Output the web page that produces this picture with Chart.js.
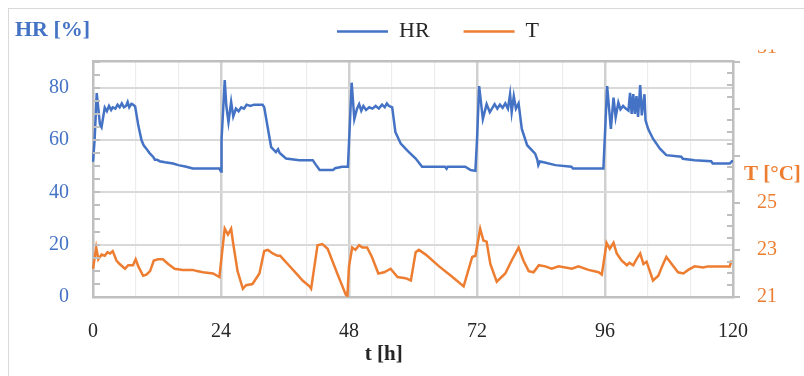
<!DOCTYPE html>
<html>
<head>
<meta charset="utf-8">
<script src="https://cdn.jsdelivr.net/npm/chart.js@4/dist/chart.umd.min.js"></script>
<style>
html,body{margin:0;padding:0;background:#fff;}
canvas{display:block;}
</style>
</head>
<body>
<canvas id="c" width="804" height="376"></canvas>
<script>
// ---- data ----
const hrTime = [0,0.3,0.7,1.0,1.3,1.6,2.2,2.6,3.0,3.4,3.7,4.2,4.6,5.0,5.4,5.8,6.2,6.5,6.8,7.2,7.5,7.9,8.5,9.1,9.5,10.0,10.6,11.3,11.6,12.0,12.5,13.5,15.0,16.0,17.5,18.7,23.7,24.0,24.1,24.7,25.0,25.4,25.9,26.3,26.8,27.3,27.8,28.3,28.8,29.5,30.2,31.0,31.8,32.1,32.8,33.4,34.3,34.7,35.0,35.6,36.2,38.7,41.2,41.8,42.5,45.0,45.4,46.7,47.8,48.5,49.0,49.5,49.9,50.3,50.7,51.2,51.8,52.4,53.0,53.6,54.2,54.7,55.1,55.5,56.1,56.7,57.7,58.9,60.5,61.7,66.0,66.3,66.5,69.8,70.8,71.7,72.0,72.4,73.1,73.8,74.4,75.3,75.8,76.3,76.8,77.3,77.8,78.2,78.5,78.9,79.3,79.8,80.4,81.4,82.9,83.3,83.5,83.8,84.5,86.7,89.7,90.0,95.7,96.4,97.1,97.6,98.0,98.5,98.9,99.4,99.9,100.4,100.7,101.0,101.3,101.6,101.9,102.2,102.6,102.9,103.4,103.6,104.1,105.0,106.3,107.5,110.3,110.6,112.8,115.9,116.2,119.4,119.8,120];
const hrValues = [51.7,60,77.9,72,66,64.9,72.4,71,73,71.5,72.5,72,73.5,72.5,74,72.5,73,74.5,72.5,73.8,73.5,72.8,65.5,59.9,58,56.7,55,53.5,52.5,52.5,51.9,51.5,51,50.4,49.8,49.1,49.1,48,60,82.9,73,66.8,74.6,69,72,71,72.5,72,73.5,73,73.5,73.5,73.5,72.5,64.3,57.3,55.4,56.5,55,54,52.9,52.3,52.3,50.5,48.5,48.5,49.2,49.8,49.8,81.9,68,72,73.7,71.2,73,71.5,72.5,72,73,72,73.5,72.5,74,73,72.5,63,58.6,56,52.9,49.8,49.8,49,49.8,49.8,48.5,48.2,60,80.6,68,73.7,70.6,73.7,72,73.5,72.3,74,72,77.5,70.6,76.7,72,74,64.2,58,54.8,52.5,50.4,51.8,51.5,50.4,49.8,49.1,49.1,80.6,64.2,76.2,68.7,74.3,71.7,73,72,71.2,78,70,77.5,70,76.8,68.8,81,69.4,77.5,67.5,64.2,60.5,56.7,54.2,53.6,52.8,52.3,51.9,51,51,51.9,51.9];

const tTime = [0,0.6,1.0,1.6,2.2,2.7,3.2,3.7,4.4,5.0,6.0,6.6,7.5,8.0,8.5,9.4,10.0,10.7,11.4,12.2,13.1,14.1,15.3,16.8,18.7,19.5,20.6,22.5,23.7,24.3,24.7,25.3,25.9,26.3,27.1,28.1,28.7,29.9,31.2,32.1,32.8,33.7,34.6,35.1,36.5,38.1,39.3,40.6,40.9,42.1,43.0,44.0,45.8,47.4,47.7,48.0,48.6,49.2,49.9,50.5,51.4,52.3,53.5,54.6,55.8,57.1,58.6,59.6,60.5,61.1,62.4,64.9,67.4,69.5,71.1,71.7,72.6,73.2,73.8,74.5,75.7,77.3,78.5,79.8,80.7,81.7,82.6,83.6,84.8,86.0,87.3,89.8,91.0,92.9,94.8,95.4,96.3,96.9,97.6,98.2,99.1,100.1,100.6,101.3,101.9,102.6,103.2,103.8,105.0,106.0,106.7,107.5,108.5,109.7,110.7,111.6,112.8,114.4,115.3,119.4,119.7];
const tValues = [22.2,23.1,22.6,22.8,22.75,22.9,22.85,22.95,22.55,22.4,22.2,22.35,22.35,22.6,22.3,21.9,21.95,22.1,22.55,22.6,22.6,22.4,22.2,22.15,22.15,22.1,22.05,22.0,21.85,23.1,23.9,23.65,23.9,23.25,22.1,21.35,21.5,21.55,22.0,22.95,23.0,22.85,22.75,22.75,22.4,22.0,21.7,21.45,21.35,23.2,23.25,23.05,22.0,21.1,21.05,22.3,23.1,23.0,23.2,23.1,23.1,22.7,22.0,22.05,22.2,21.85,21.8,21.7,22.9,23.0,22.8,22.3,21.85,21.45,22.7,22.75,23.9,23.4,23.35,22.4,21.65,22.0,22.55,23.1,22.55,22.1,22.05,22.35,22.3,22.2,22.3,22.2,22.3,22.15,22.05,21.95,23.3,23.05,23.3,22.85,22.55,22.35,22.45,22.35,22.6,22.85,22.4,22.5,21.7,21.9,22.3,22.7,22.4,22.05,22.0,22.15,22.3,22.25,22.3,22.3,22.55];

const xTickLabels = [0,24,48,72,96,120];
const hrTickLabels = [0,20,40,60,80];
const tTickLabels = [21,23,25];

const BLUE = '#4472C4', ORANGE = '#ED7D31', AXIS = '#bfbfbf';
const FONT = "'Liberation Serif', 'DejaVu Serif', serif";

const hrPoints = hrTime.map((t, i) => ({x: t, y: hrValues[i]}));
const tPoints = tTime.map((t, i) => ({x: t, y: tValues[i]}));

const decor = {
  id: 'decor',
  afterLayout(chart) {
    chart.legend.left += 36;
    chart.legend.right += 36;
  },
  beforeDraw(chart) {
    const ctx = chart.ctx;
    ctx.save();
    ctx.fillStyle = '#fff';
    ctx.fillRect(0, 0, chart.width, chart.height);
    ctx.strokeStyle = '#d9d9d9';
    ctx.lineWidth = 1;
    ctx.strokeRect(8.5, 8.5, chart.width + 40, chart.height + 40);
    ctx.restore();
  },
  afterDraw(chart) {
    const ctx = chart.ctx;
    const y = chart.scales.y, y2 = chart.scales.y2, x = chart.scales.x;
    const a = chart.chartArea;
    ctx.save();
    ctx.strokeStyle = AXIS;
    ctx.lineWidth = 2;
    for (let v = 0; v <= 90; v += 5) {
      const p = Math.round(y.getPixelForValue(v));
      ctx.beginPath(); ctx.moveTo(a.left, p); ctx.lineTo(a.left + 7, p); ctx.stroke();
    }
    for (let v = 21; v <= 31.001; v += 0.5) {
      const p = Math.round(y2.getPixelForValue(v));
      const major = Math.abs(v - Math.round(v)) < 0.01 && Math.round(v) % 2 === 1;
      ctx.beginPath();
      if (major) { ctx.moveTo(a.right, p); ctx.lineTo(a.right + 7, p); }
      else { ctx.moveTo(a.right - 6, p); ctx.lineTo(a.right, p); }
      ctx.stroke();
    }
    // axis titles
    ctx.textBaseline = 'middle';
    ctx.textAlign = 'left';
    ctx.font = "bold 22px " + FONT;
    ctx.fillStyle = BLUE;
    ctx.fillText('HR [%]', 15, 30);
    ctx.fillStyle = ORANGE;
    ctx.font = "bold 21px " + FONT;
    ctx.fillText('T [°C]', 744, y2.getPixelForValue(26.2));
    ctx.fillStyle = '#262626';
    ctx.textAlign = 'center';
    ctx.fillText('t [h]', x.getPixelForValue(54.5), 355);
    // partially hidden top label of the T axis
    ctx.save();
    ctx.beginPath(); ctx.rect(740, 49.5, 60, 3.5); ctx.clip();
    ctx.fillStyle = ORANGE;
    ctx.textAlign = 'left';
    ctx.font = "20px " + FONT;
    ctx.textBaseline = 'alphabetic';
    ctx.fillText('31', 757, 53);
    ctx.restore();
    ctx.restore();
  }
};

new Chart(document.getElementById('c'), {
  type: 'line',
  data: {
    datasets: [
      {label: 'HR', data: hrPoints, yAxisID: 'y', borderColor: BLUE, backgroundColor: BLUE, borderWidth: 2.5, pointRadius: 0, tension: 0},
      {label: 'T', data: tPoints, yAxisID: 'y2', borderColor: ORANGE, backgroundColor: ORANGE, borderWidth: 2.5, pointRadius: 0, tension: 0}
    ]
  },
  options: {
    responsive: false,
    devicePixelRatio: 1,
    animation: false,
    layout: {padding: {top: -13.5, left: 0, right: 0, bottom: 0}},
    plugins: {
      legend: {
        position: 'top',
        labels: {
          usePointStyle: true, pointStyle: 'line', pointStyleWidth: 51,
          padding: 34, color: '#262626',
          font: {family: FONT, size: 22}
        }
      },
      tooltip: {enabled: false}
    },
    scales: {
      xTop: {
        type: 'linear', position: 'top', axis: 'x', display: true,
        grid: {display: false}, border: {display: false}, ticks: {display: false},
        afterFit(s) { s.height = 9; }
      },
      x: {
        type: 'linear', position: 'bottom', min: 0, max: 120,
        ticks: {
          stepSize: 8, autoSkip: false, maxRotation: 0, padding: 23,
          color: '#262626', font: {family: FONT, size: 20},
          callback: v => xTickLabels.includes(v) ? String(v) : ''
        },
        grid: {
          drawTicks: false,
          color: c => (c.tick && (c.tick.value === 0 || c.tick.value === 120)) ? 'rgba(0,0,0,0)' : (c.tick && c.tick.value % 24 === 0 ? '#d0d0d0' : '#ededed'),
          lineWidth: c => (c.tick && c.tick.value % 24 === 0) ? 2.5 : 1.2
        },
        border: {color: AXIS, width: 2.5},
        afterFit(s) { s.height = 79; }
      },
      y: {
        type: 'linear', position: 'left', min: 0, max: 90,
        ticks: {
          stepSize: 5, autoSkip: false, padding: 24, color: BLUE,
          font: {family: FONT, size: 20},
          callback: v => hrTickLabels.includes(v) ? String(v) : ''
        },
        grid: {
          drawTicks: false,
          color: c => {
            const v = c.tick ? c.tick.value : -1;
            if (v === 90) return AXIS;
            return (v > 0 && v % 20 === 0) ? '#d9d9d9' : 'rgba(0,0,0,0)';
          },
          lineWidth: c => (c.tick && c.tick.value === 90) ? 2.5 : 2
        },
        border: {color: AXIS, width: 2.5},
        afterFit(s) { s.width = 93; }
      },
      y2: {
        type: 'linear', position: 'right', min: 21, max: 31,
        ticks: {
          stepSize: 0.5, autoSkip: false, padding: 24, color: ORANGE,
          font: {family: FONT, size: 20},
          callback: v => tTickLabels.includes(v) ? String(v) : ''
        },
        grid: {drawOnChartArea: false, drawTicks: false},
        border: {color: AXIS, width: 2.5},
        afterFit(s) { s.width = 71; }
      }
    }
  },
  plugins: [decor]
});
</script>
</body>
</html>
